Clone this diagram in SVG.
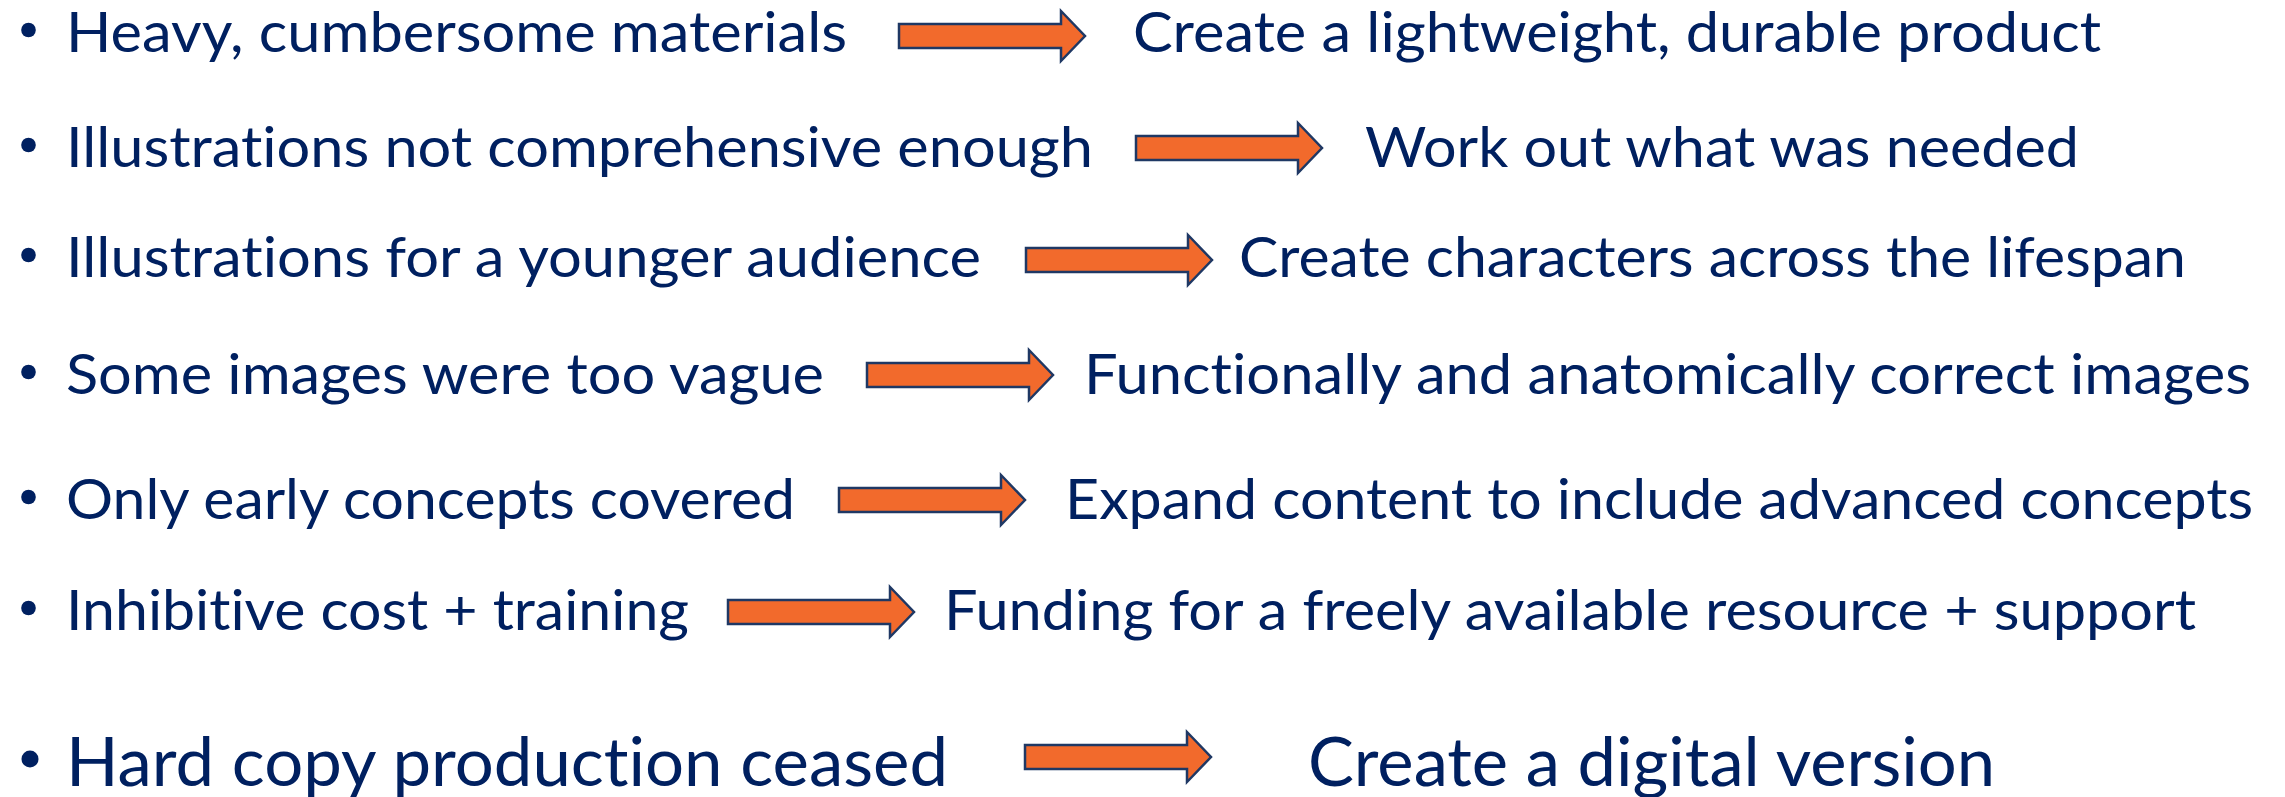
<svg xmlns="http://www.w3.org/2000/svg" width="2285" height="797" viewBox="0 0 2285 797">
  <style>
    .t { font-family: Lato, "Open Sans", "Liberation Sans", sans-serif; font-size: 56px; fill: #002060; font-variant-ligatures: none; font-feature-settings: "liga" 0, "clig" 0; }
    .big { font-size: 68px; }
    .bul { fill: #002060; }
    .arr { fill: #F26A2C; stroke: #1F3864; stroke-width: 2.5; stroke-linejoin: miter; }
  </style>
  <defs>
    <path id="arrow" d="M0,-12 H162 V-25 L186,0 L162,25 V12 H0 Z"/>
  </defs>
  <rect width="2285" height="797" fill="#ffffff"/>

  <g id="row1-problem">
    <circle class="bul" cx="28.5" cy="30" r="7.3"/>
    <text class="t" x="66" y="52" textLength="781" lengthAdjust="spacingAndGlyphs">Heavy, cumbersome materials</text>
  </g>
  <g id="row1-solution">
    <text class="t" x="1133" y="52" textLength="968" lengthAdjust="spacingAndGlyphs">Create a lightweight, durable product</text>
  </g>

  <g id="row2-problem">
    <circle class="bul" cx="28.5" cy="145" r="7.3"/>
    <text class="t" x="66" y="167" textLength="1027" lengthAdjust="spacingAndGlyphs">Illustrations not comprehensive enough</text>
  </g>
  <g id="row2-solution">
    <text class="t" x="1365" y="167" textLength="714" lengthAdjust="spacingAndGlyphs">Work out what was needed</text>
  </g>

  <g id="row3-problem">
    <circle class="bul" cx="28.5" cy="255" r="7.3"/>
    <text class="t" x="66" y="277" textLength="915" lengthAdjust="spacingAndGlyphs">Illustrations for a younger audience</text>
  </g>
  <g id="row3-solution">
    <text class="t" x="1239" y="277" textLength="947" lengthAdjust="spacingAndGlyphs">Create characters across the lifespan</text>
  </g>

  <g id="row4-problem">
    <circle class="bul" cx="28.5" cy="372" r="7.3"/>
    <text class="t" x="66" y="394" textLength="758" lengthAdjust="spacingAndGlyphs">Some images were too vague</text>
  </g>
  <g id="row4-solution">
    <text class="t" x="1084" y="394" textLength="1167" lengthAdjust="spacingAndGlyphs">Functionally and anatomically correct images</text>
  </g>

  <g id="row5-problem">
    <circle class="bul" cx="28.5" cy="497" r="7.3"/>
    <text class="t" x="66" y="519" textLength="729" lengthAdjust="spacingAndGlyphs">Only early concepts covered</text>
  </g>
  <g id="row5-solution">
    <text class="t" x="1065" y="519" textLength="1188" lengthAdjust="spacingAndGlyphs">Expand content to include advanced concepts</text>
  </g>

  <g id="row6-problem">
    <circle class="bul" cx="28.5" cy="608" r="7.3"/>
    <text class="t" x="66" y="630" textLength="623" lengthAdjust="spacingAndGlyphs">Inhibitive cost + training</text>
  </g>
  <g id="row6-solution">
    <text class="t" x="944" y="630" textLength="1252" lengthAdjust="spacingAndGlyphs">Funding for a freely available resource + support</text>
  </g>

  <g id="row7-problem">
    <circle class="bul" cx="30" cy="759" r="8.5"/>
    <text class="t big" x="66" y="786" textLength="882" lengthAdjust="spacingAndGlyphs">Hard copy production ceased</text>
  </g>
  <g id="row7-solution">
    <text class="t big" x="1308" y="786" textLength="687" lengthAdjust="spacingAndGlyphs">Create a digital version</text>
  </g>

  <g id="connectors">
    <use href="#arrow" class="arr" transform="translate(899,36)"/>
    <use href="#arrow" class="arr" transform="translate(1136,148)"/>
    <use href="#arrow" class="arr" transform="translate(1026,260)"/>
    <use href="#arrow" class="arr" transform="translate(867,375)"/>
    <use href="#arrow" class="arr" transform="translate(839,500)"/>
    <use href="#arrow" class="arr" transform="translate(728,612)"/>
    <use href="#arrow" class="arr" transform="translate(1025,757)"/>
  </g>
</svg>
